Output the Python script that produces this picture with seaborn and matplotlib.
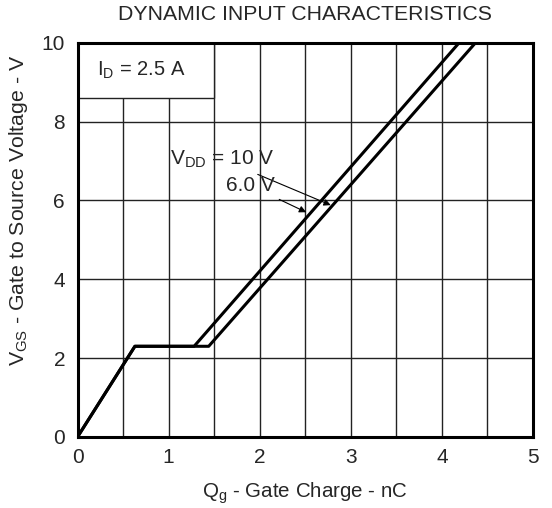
import matplotlib
matplotlib.use("Agg")
import matplotlib.pyplot as plt
import seaborn as sns
import pandas as pd
from matplotlib.patches import Rectangle

# Gate charge curves (Qg in nC, VGS in V)
qg_6v = [0.0, 0.63, 1.28, 4.19]
vgs_6v = [0.0, 2.3, 2.3, 10.0]
qg_10v = [0.0, 0.63, 1.44, 4.37]
vgs_10v = [0.0, 2.3, 2.3, 10.0]

x_ticks = [0, 1, 2, 3, 4, 5]
y_ticks = [0, 2, 4, 6, 8, 10]

sns.set_style("white")
plt.rcParams['font.family'] = ['Liberation Sans', 'DejaVu Sans']
plt.rcParams['mathtext.fontset'] = 'custom'
plt.rcParams['mathtext.rm'] = 'Liberation Sans'

df = pd.concat([
    pd.DataFrame({'qg': qg_6v, 'vgs': vgs_6v, 'vdd': '6.0 V'}),
    pd.DataFrame({'qg': qg_10v, 'vgs': vgs_10v, 'vdd': '10 V'}),
])

fig = plt.figure(figsize=(5.52, 5.08), dpi=100)
ax = fig.add_axes([0.1404, 0.1398, 0.8252, 0.7762])

sns.lineplot(data=df, x='qg', y='vgs', units='vdd', estimator=None, sort=False,
             color='black', linewidth=2.2, ax=ax, legend=False)

ax.set_xlim(0, 5)
ax.set_ylim(0, 10)
ax.set_xticks(x_ticks)
ax.set_xticks([v + 0.5 for v in x_ticks[:-1]], minor=True)
ax.set_yticks(y_ticks)
ax.tick_params(which='both', length=0, labelsize=15)
ax.tick_params(axis='x', pad=8)
ax.tick_params(axis='y', pad=9)
ax.set_axisbelow(True)
ax.grid(True, which='major', color='#222222', linewidth=1.0)
ax.grid(True, which='minor', axis='x', color='#222222', linewidth=1.0)
for s in ax.spines.values():
    s.set_linewidth(2.2)
    s.set_color('black')

# ID box in upper left corner
ax.add_patch(Rectangle((0, 8.6), 1.5, 1.4, facecolor='white', edgecolor='#222222',
                       linewidth=1.0, zorder=1))
ax.text(0.7, 9.3, r'$\mathregular{I_D}$ = 2.5 A', fontsize=14.5, ha='center', va='center')

# VDD annotations
ax.annotate(r'$\mathregular{V_{DD}}$ = 10 V', xy=(2.78, 5.88), xytext=(2.16, 7.04),
            fontsize=15, ha='right', va='center',
            arrowprops=dict(arrowstyle='-|>', color='black', lw=0.8, mutation_scale=10,
                            shrinkA=2, shrinkB=0))
ax.annotate('6.0 V', xy=(2.51, 5.70), xytext=(2.16, 6.38),
            fontsize=15, ha='right', va='center',
            arrowprops=dict(arrowstyle='-|>', color='black', lw=0.8, mutation_scale=10,
                            shrinkA=2, shrinkB=0))

ax.set_title('DYNAMIC INPUT CHARACTERISTICS', fontsize=15.3, pad=16)
ax.set_xlabel(r'$\mathregular{Q_g}$ - Gate Charge - nC', fontsize=14.8, labelpad=10)
ax.set_ylabel(r'$\mathregular{V_{GS}}$ - Gate to Source Voltage - V', fontsize=15.3)
ax.yaxis.set_label_coords(-0.105, 0.575)

plt.savefig('out.png', dpi=100)
